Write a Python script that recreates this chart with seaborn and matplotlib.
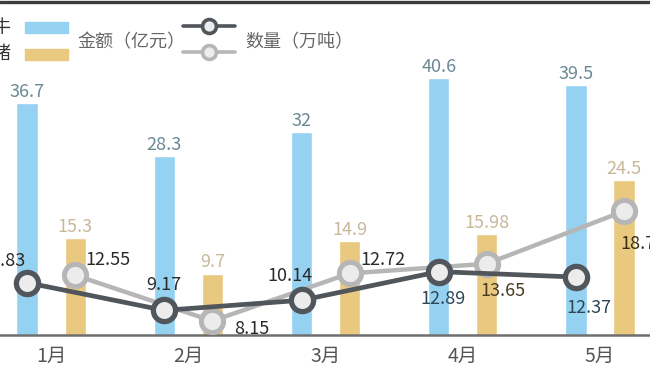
import numpy as np
import pandas as pd
import seaborn as sns
import matplotlib.pyplot as plt
from matplotlib.lines import Line2D
from matplotlib.patches import Rectangle

# data
months = ["1月", "2月", "3月", "4月", "5月"]
cattle_amount = [36.7, 28.3, 32, 40.6, 39.5]      # 金额（亿元）
pig_amount = [15.3, 9.7, 14.9, 15.98, 24.5]
cattle_qty = [11.83, 9.17, 10.14, 12.89, 12.37]   # 数量（万吨）
pig_qty = [12.55, 8.15, 12.72, 13.65, 18.71]

BLUE = "#95d2f2"
GOLD = "#e9c880"
DARK = "#50565b"
LIGHT = "#b6b6b6"
FACE = "#ececec"

sns.set_style("white")
plt.rcParams["font.family"] = ["Noto Sans CJK SC", "DejaVu Sans"]

df = pd.DataFrame({
    "month": months * 2,
    "kind": ["牛"] * len(months) + ["猪"] * len(months),
    "amount": cattle_amount + pig_amount,
})

W, H = 650, 366
fig = plt.figure(figsize=(W / 100, H / 100), dpi=100)
ax = fig.add_axes([0, 31 / H, 1, 335 / H])

sns.barplot(data=df, x="month", y="amount", hue="kind", hue_order=["牛", "猪"],
            palette=[BLUE, GOLD], saturation=1, width=0.7, gap=0.56,
            legend=False, ax=ax)
ax.set_xlim(-0.372, 4.364)
ax.set_ylim(0, 52.9)

fmt = lambda v: f"{v:g}"
ax.bar_label(ax.containers[0], labels=[fmt(v) for v in cattle_amount],
             padding=1.5, color="#6b8994", fontsize=13)
ax.bar_label(ax.containers[1], labels=[fmt(v) for v in pig_amount],
             padding=1.5, color="#c8b899", fontsize=13)

# quantity lines on a second scale
ax2 = ax.twinx()
ax2.set_ylim(6.8, 39.0)
off = 0.175
x = np.arange(len(months))
sns.lineplot(x=x + off, y=pig_qty, ax=ax2, color=LIGHT, lw=3.2, marker="o",
             ms=16, mfc=FACE, mec=LIGHT, mew=3.6)
sns.lineplot(x=x - off, y=cattle_qty, ax=ax2, color=DARK, lw=3.4, marker="o",
             ms=16, mfc=FACE, mec=DARK, mew=3.8)

# label offsets in pixels
cattle_off = [(-24, 22), (0, 25), (-12, 24), (4, -27), (13, -31)]
pig_off = [(33, 15), (39, -8), (33, 13), (16, -27), (-4, -33)]
cattle_col = ["#2a2a2a", "#2a2a2a", "#2a2a2a", "#2c4656", "#2c4656"]
pig_col = ["#2a2a2a", "#2a2a2a", "#2a2a2a", "#4a3c20", "#3a2e14"]
for i, v in enumerate(cattle_qty):
    ax2.annotate(fmt(v), (x[i] - off, v), xytext=cattle_off[i],
                 textcoords="offset pixels", ha="center", va="center",
                 fontsize=13, color=cattle_col[i])
for i, v in enumerate(pig_qty):
    ax2.annotate(fmt(v), (x[i] + off, v), xytext=pig_off[i],
                 textcoords="offset pixels", ha="left" if i == 4 else "center",
                 va="center", fontsize=13, color=pig_col[i])

for a in (ax, ax2):
    a.set_yticks([])
    a.set_ylabel("")
    for s in ("left", "right", "top"):
        a.spines[s].set_visible(False)
ax2.spines["bottom"].set_visible(False)
ax.spines["bottom"].set_color("#6e6e6e")
ax.spines["bottom"].set_linewidth(1.8)
ax.set_xlabel("")
ax.tick_params(axis="x", length=0, pad=8, labelsize=14, labelcolor="#555555")

# legend, drawn by hand like the original
fy = lambda py: 1 - py / H
fig.text(11 / W, fy(28), "肉牛", ha="right", va="center", fontsize=13, color="#333333")
fig.text(11 / W, fy(54), "生猪", ha="right", va="center", fontsize=13, color="#333333")
fig.add_artist(Rectangle((25 / W, fy(33)), 43 / W, 11 / H, color=BLUE,
                         transform=fig.transFigure))
fig.add_artist(Rectangle((25 / W, fy(60)), 43 / W, 11 / H, color=GOLD,
                         transform=fig.transFigure))
fig.text(77 / W, fy(42), "金额（亿元）", ha="left", va="center", fontsize=13, color="#666666")
for py, c in ((26, DARK), (52, LIGHT)):
    fig.add_artist(Line2D([183 / W, 235 / W], [fy(py), fy(py)], color=c, lw=2.6,
                          transform=fig.transFigure))
    fig.add_artist(Line2D([209 / W], [fy(py)], color=c, lw=0, marker="o", ms=10,
                          mfc=FACE, mec=c, mew=2.6, transform=fig.transFigure))
fig.text(245 / W, fy(42), "数量（万吨）", ha="left", va="center", fontsize=13, color="#666666")

# dark rule at the very top
fig.add_artist(Line2D([0, 1], [fy(1.5), fy(1.5)], color="#3c3c3c", lw=2.4,
                      transform=fig.transFigure))

fig.savefig("out.png", dpi=100)
